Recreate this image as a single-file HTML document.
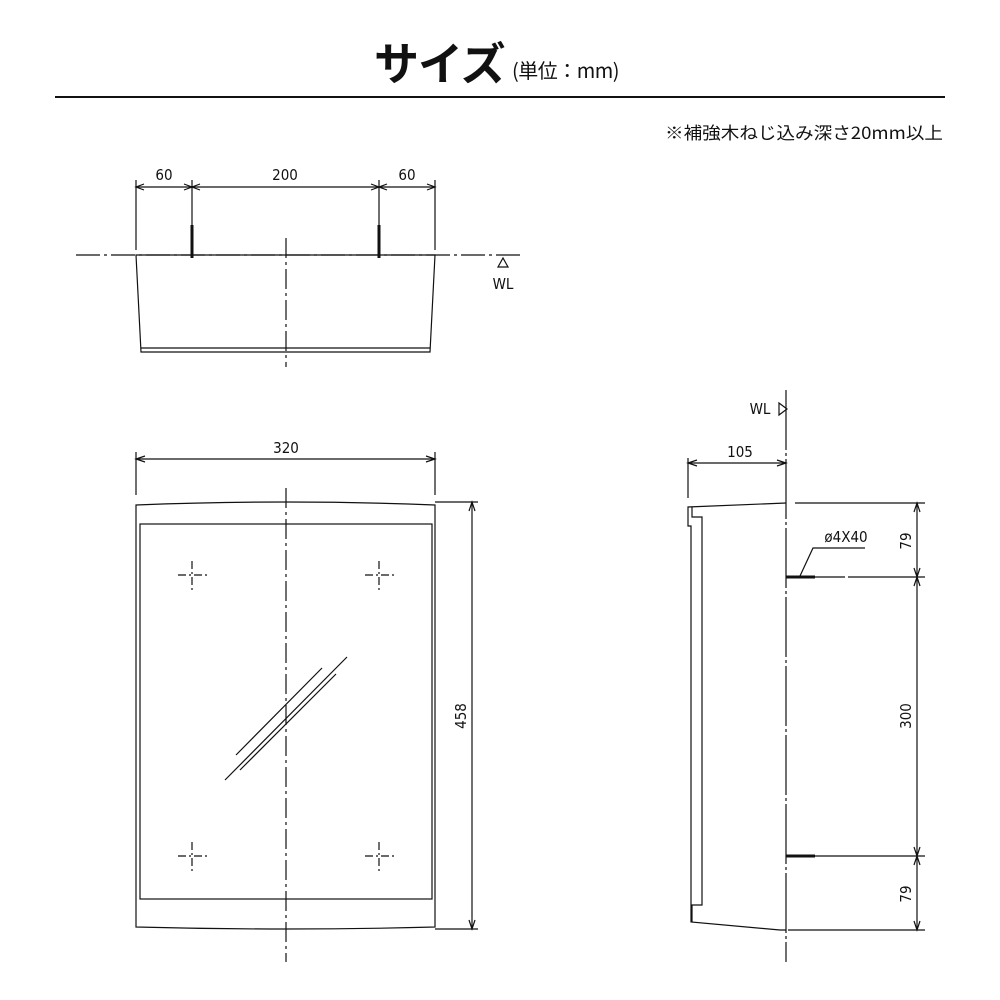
<!DOCTYPE html>
<html><head><meta charset="utf-8"><style>
body{margin:0;background:#fff;width:1000px;height:1000px;overflow:hidden}
svg{display:block}
</style></head><body>
<svg width="1000" height="1000" viewBox="0 0 1000 1000" xmlns="http://www.w3.org/2000/svg" font-family="'Noto Sans CJK JP',sans-serif">
<text x="374" y="80" font-size="45" font-weight="bold" fill="#111" letter-spacing="-1">サイズ</text>
<text x="512" y="78" font-size="20" fill="#111" letter-spacing="-0.5">(単位：mm)</text>
<line x1="55" y1="97" x2="945" y2="97" stroke="#111" stroke-width="2"/>
<text x="943" y="139" font-size="17" fill="#111" text-anchor="end" textLength="278" lengthAdjust="spacingAndGlyphs">※補強木ねじ込み深さ20mm以上</text>
<g stroke="#111" fill="none" stroke-width="1.2">
<line x1="76" y1="255" x2="520" y2="255" stroke-dasharray="24,4,3,4"/>
<path d="M136 255 L435 255 L430 352 L141 352 Z"/>
<line x1="141" y1="348" x2="430" y2="348"/>
<line x1="286" y1="238" x2="286" y2="367" stroke-dasharray="20,4,3,4"/>
<line x1="136" y1="180" x2="136" y2="250"/><line x1="435" y1="180" x2="435" y2="250"/>
<line x1="192" y1="180" x2="192" y2="225"/><line x1="379" y1="180" x2="379" y2="225"/>
<line x1="136" y1="187" x2="435" y2="187"/>
<line x1="192" y1="225" x2="192" y2="258" stroke-width="3"/><line x1="379" y1="225" x2="379" y2="258" stroke-width="3"/>
<path d="M144 184 L136 187 L144 190 M184 184 L192 187 L184 190 M200 184 L192 187 L200 190 M371 184 L379 187 L371 190 M387 184 L379 187 L387 190 M427 184 L435 187 L427 190"/>
<path d="M498 267 L503 258 L508 267 Z"/>
<line x1="136" y1="452" x2="136" y2="495"/><line x1="435" y1="452" x2="435" y2="495"/>
<line x1="136" y1="459" x2="435" y2="459"/>
<path d="M145 456 L136 459 L145 462 M426 456 L435 459 L426 462"/>
<path d="M136 505 Q286 499 435 505 L435 927 Q286 931 136 927 Z"/>
<rect x="140" y="524" width="292" height="375"/>
<line x1="286" y1="488" x2="286" y2="962" stroke-dasharray="20,4,3,4"/>
<line x1="435" y1="502" x2="478" y2="502"/><line x1="435" y1="929" x2="478" y2="929"/>
<line x1="472" y1="502" x2="472" y2="929"/>
<path d="M469 511 L472 502 L475 511 M469 920 L472 929 L475 920"/>
<g stroke-dasharray="8,3,2,3">
<path d="M178 575 H207 M192 561 V590 M365 575 H394 M379 561 V590 M178 856 H207 M192 842 V871 M365 856 H394 M379 842 V871"/>
</g>
<line x1="225" y1="780" x2="347" y2="657"/>
<line x1="236" y1="755" x2="322" y2="668"/>
<line x1="240" y1="770" x2="336" y2="674"/>
<line x1="786" y1="390" x2="786" y2="962" stroke-dasharray="60,3,3,3"/>
<path d="M779 403 L787 409 L779 415 Z"/>
<line x1="688" y1="458" x2="688" y2="498"/>
<line x1="688" y1="463" x2="786" y2="463"/>
<path d="M697 460 L688 463 L697 466 M777 460 L786 463 L777 466"/>
<path d="M786 503 L688 507 L688 526 L691 526 L691 922 L780 930 L786 930"/>
<path d="M692 507 L692 517 L702 517 L702 905 L692 905 L692 922"/>
<line x1="795" y1="503" x2="925" y2="503"/>
<line x1="795" y1="577" x2="925" y2="577" stroke-dasharray="50,3,200"/>
<line x1="795" y1="856" x2="925" y2="856"/>
<line x1="788" y1="930" x2="925" y2="930"/>
<line x1="917" y1="503" x2="917" y2="930"/>
<path d="M914 512 L917 503 L920 512 M914 568 L917 577 L920 568 M914 586 L917 577 L920 586 M914 847 L917 856 L920 847 M914 865 L917 856 L920 865 M914 921 L917 930 L920 921"/>
<line x1="786" y1="577" x2="815" y2="577" stroke-width="3"/>
<line x1="786" y1="856" x2="815" y2="856" stroke-width="3"/>
<path d="M800 576 L813 548 L865 548"/>
</g>
<g font-family="'DejaVu Sans Condensed','Liberation Sans Narrow',sans-serif" font-size="15" fill="#111" text-anchor="middle">
<text x="164" y="180">60</text>
<text x="285" y="180">200</text>
<text x="407" y="180">60</text>
<text x="503" y="289">WL</text>
<text x="286" y="453">320</text>
<text x="760" y="414">WL</text>
<text x="740" y="457">105</text>
<text x="846" y="542">ø4X40</text>
<text transform="translate(466,716) rotate(-90)">458</text>
<text transform="translate(911,541) rotate(-90)">79</text>
<text transform="translate(911,716) rotate(-90)">300</text>
<text transform="translate(911,894) rotate(-90)">79</text>
</g>
</svg>
</body></html>
